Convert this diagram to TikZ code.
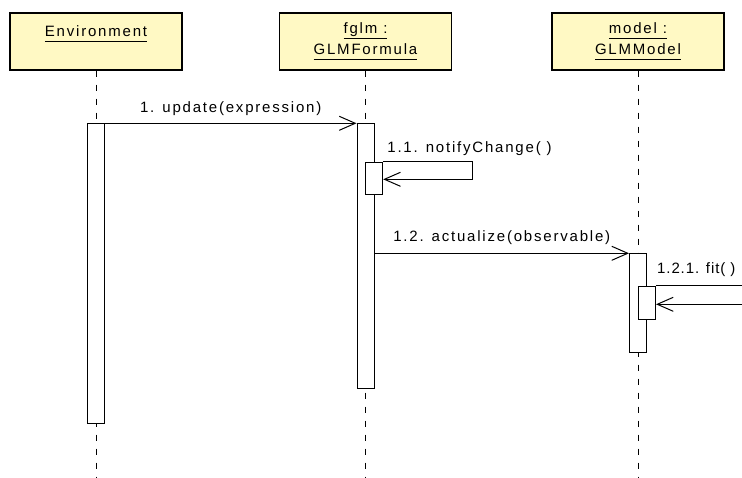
\documentclass[tikz,border=0pt]{standalone}
\usepackage{fontspec}
\setmainfont{Liberation Sans}[LetterSpace=12]
\usepackage{tikz}
\usetikzlibrary{positioning, calc, arrows.meta}

\definecolor{objyellow}{HTML}{FFF9C4}
\newcommand{\objname}[1]{\underline{#1\vphantom{g}}}

\begin{document}
\begin{tikzpicture}[
		x=1pt, y=-1pt,
		font=\fontsize{15}{21}\selectfont,
		% --- caja de objeto ---
		obj_box/.style={
			rectangle,
			draw,
			fill=objyellow,
			line width=1.3pt,
			minimum width=172pt,
			minimum height=57pt,
			inner sep=0pt,
			align=center
		},
		act_box/.style={
			rectangle,
			draw,
			fill=white,
			line width=1pt,
			minimum width=17pt,
			inner sep=0pt,
			anchor=north
		},
		life_line/.style={
			line width=1pt,
			dash pattern=on 6pt off 8pt
		},
		msg_arrow/.style={
			-{Straight Barb[length=16pt, width=14pt]},
			line width=1pt
		},
		msg_label/.style={anchor=base, inner sep=0pt}
		]
		
		\clip (0,0) rectangle (742,478);
		
		% --- OBJETOS ---
		\node (env) [obj_box] at (96,41.5) {\objname{Environment}\\ \mbox{}};
		\node (fglm) [obj_box] at (365.5,41.5) {\objname{fglm :}\\ \objname{GLMFormula}};
		\node (model) [obj_box] at (638,41.5) {\objname{model :}\\ \objname{GLMModel}};
		
		% --- LINEAS DE VIDA ---
		\coordinate (bottom) at (0,478);
		\draw [life_line] (env.south) -- (env.south |- bottom);
		\draw [life_line] (fglm.south) -- (fglm.south |- bottom);
		\draw [life_line] (model.south) -- (model.south |- bottom);
		
		% --- ACTIVACIONES ---
		\node (act_env) [act_box, minimum height=299.4pt] at (96,123.3) {};
		\node (act_fglm) [act_box, minimum height=264.7pt] at (365.5,123.3) {};
		\node (act_fglm2) [act_box, minimum height=32.6pt] at (374.2,161.7) {};
		\node (act_model) [act_box, minimum height=98.4pt] at (638,253.3) {};
		\node (act_model2) [act_box, minimum height=32.7pt] at (647,286) {};
		
		% --- MENSAJES ---
		\draw [msg_arrow] (act_env.north east) -- node[msg_label, yshift=11pt] {1. update(expression)} (act_fglm.north west);
		
		% llamada a si mismo
		\draw [msg_arrow] (act_fglm2.north east) -- ++(89,0) -- ++(0,17.6) -- ++(-89,0);
		\node (lbl_notify) [anchor=base west, inner sep=0pt] at ($(act_fglm2.north east)+(4,-9.5)$) {1.1. notifyChange( )};
		
		\draw [msg_arrow] (act_fglm.east |- act_model.north) -- node[msg_label, yshift=12pt] {1.2. actualize(observable)} (act_model.north west);
		
		% sale por el borde derecho
		\draw [msg_arrow] (act_model2.north east) -- ++(100,0) -- ++(0,18.3) -- ++(-100,0);
		\node (lbl_fit) [anchor=base west, inner sep=0pt] at ($(act_model2.north east)+(1,-12)$) {\addfontfeature{LetterSpace=6}1.2.1. fit( )};
		
	\end{tikzpicture}
\end{document}
